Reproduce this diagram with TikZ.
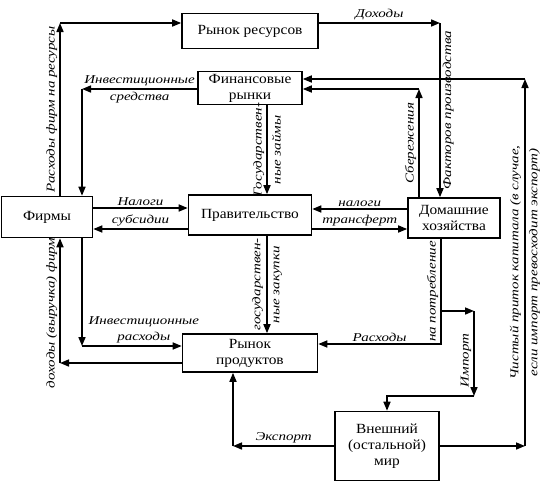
\documentclass[tikz,border=0pt]{standalone}
\usepackage{fontspec}
\setmainfont[FakeStretch=1.1]{Liberation Serif}
\newfontfamily\lblfamily[FakeStretch=1.25]{Liberation Serif}
\usetikzlibrary{arrows.meta, positioning}

\newcommand\boxfont{\fontsize{14}{16}\selectfont}
\newcommand\lblfont{\lblfamily\itshape\fontsize{12}{19}\selectfont}

\begin{document}
\begin{tikzpicture}[
  x=1pt, y=-1pt,
  box/.style={rectangle, draw=black, line width=1.6pt, fill=white,
              align=center, inner sep=1pt, font=\boxfont},
  arr/.style={-{Triangle[length=9pt,width=7pt]}, line width=1.6pt},
  lbl/.style={font=\lblfont, inner sep=2pt}
]
\useasboundingbox (0,0) rectangle (550,485);

% boxes
\node[box, minimum width=136, minimum height=35] (resmk)  at (250,31)  {Рынок ресурсов};
\node[box, minimum width=104, minimum height=33] (finmk)  at (250,88)  {Финансовые\\рынки};
\node[box, minimum width=91,  minimum height=41] (firms)  at (47,217)  {Фирмы};
\node[box, minimum width=123, minimum height=40] (gov)    at (250,215) {Правительство};
\node[box, minimum width=92,  minimum height=40] (house)  at (454,218) {Домашние\\хозяйства};
\node[box, minimum width=135, minimum height=38] (prodmk) at (250,353) {Рынок\\продуктов};
\node[box, minimum width=104, minimum height=69] (world)  at (387,446) {Внешний\\(остальной)\\мир};

% corners and rows
\coordinate (c1)  at (60,23);
\coordinate (c2)  at (440,23);
\coordinate (c3)  at (82,89);
\coordinate (c4)  at (267,0);
\coordinate (tax1) at (0,208);
\coordinate (sub1) at (0,229);
\coordinate (tax2) at (0,209);
\coordinate (trf2) at (0,229);
\coordinate (c6)  at (419,89);
\coordinate (c7a) at (525,446);
\coordinate (c7b) at (525,79);
\coordinate (c8)  at (82,346);
\coordinate (c9)  at (60,363);
\coordinate (c11) at (441,344);
\coordinate (c12a) at (474,311);
\coordinate (c12b) at (474,396);
\coordinate (c12c) at (387,396);
\coordinate (c13) at (233,446);

% flows
\draw[arr] (c1 |- firms.north) -- node[lbl, rotate=90, anchor=south] (lres) {Расходы фирм на ресурсы} (c1);
\draw[arr] (c1) -- (c1 -| resmk.west);

\draw[arr] (resmk.east |- c2) -- node[lbl, above] (linc) {Доходы} (c2);
\draw[arr] (c2) -- node[lbl, rotate=90, anchor=north] (lfac) {Факторов производства} (c2 |- house.north);

\draw[arr] (finmk.west |- c3) -- node[lbl, above] (linv1) {Инвестиционные}
  node[lbl, below] (linv2) {средства} (c3);
\draw[arr] (c3) -- (c3 |- firms.north);

\draw[arr] (c4 |- finmk.south) -- node[lbl, rotate=90, align=center] (lloan) {Государствен-\\ные займы} (c4 |- gov.north);

\draw[arr] (firms.east |- tax1) -- node[lbl, above] (ltax1) {Налоги} (gov.west |- tax1);
\draw[arr] (gov.west |- sub1) -- node[lbl, above] (lsub) {субсидии} (firms.east |- sub1);
\draw[arr] (house.west |- tax2) -- node[lbl, above] (ltax2) {налоги} (gov.east |- tax2);
\draw[arr] (gov.east |- trf2) -- node[lbl, above] (ltrf) {трансферт} (house.west |- trf2);

\draw[arr] (c6 |- house.north) -- node[lbl, rotate=90, anchor=south] (lsav) {Сбережения} (c6);
\draw[arr] (c6) -- (c6 -| finmk.east);

\draw[arr] (world.east) -- (c7a);
\draw[arr] (c7a) -- node[lbl, rotate=90, align=center] (lcap) {Чистый приток капитала (в случае,\\если импорт превосходит экспорт)} (c7b);
\draw[arr] (c7b) -- (c7b -| finmk.east);

\draw[arr] (c8 |- firms.south) -- (c8);
\draw[arr] (c8) -- node[lbl, above, pos=0.62, align=center, font=\lblfont\fontsize{12}{16}\selectfont] (linvx) {Инвестиционные\\расходы} (c8 -| prodmk.west);

\draw[arr] (prodmk.west |- c9) -- (c9);
\draw[arr] (c9) -- node[lbl, rotate=90, anchor=south, pos=0.4] (lrev) {доходы (выручка) фирм} (c9 |- firms.south);

\draw[arr] (c4 |- gov.south) -- node[lbl, rotate=90, align=center] (lpur) {государствен-\\ные закупки} (c4 |- prodmk.north);

\draw[arr] (c11 |- house.south) -- node[lbl, rotate=90, anchor=south] (lcons) {на потребление} (c11)
  -- node[lbl, above] (lexp) {Расходы} (c11 -| prodmk.east);

\draw[arr] (c11 |- c12a) -- (c12a);
\draw[arr] (c12a) -- node[lbl, rotate=90, anchor=south, pos=0.58] (limp) {Импорт} (c12b);
\draw[arr] (c12b) -- (c12c) -- (world.north);

\draw[arr] (world.west) -- node[lbl, above] (lexpt) {Экспорт} (c13);
\draw[arr] (c13) -- (c13 |- prodmk.south);

\end{tikzpicture}
\end{document}
